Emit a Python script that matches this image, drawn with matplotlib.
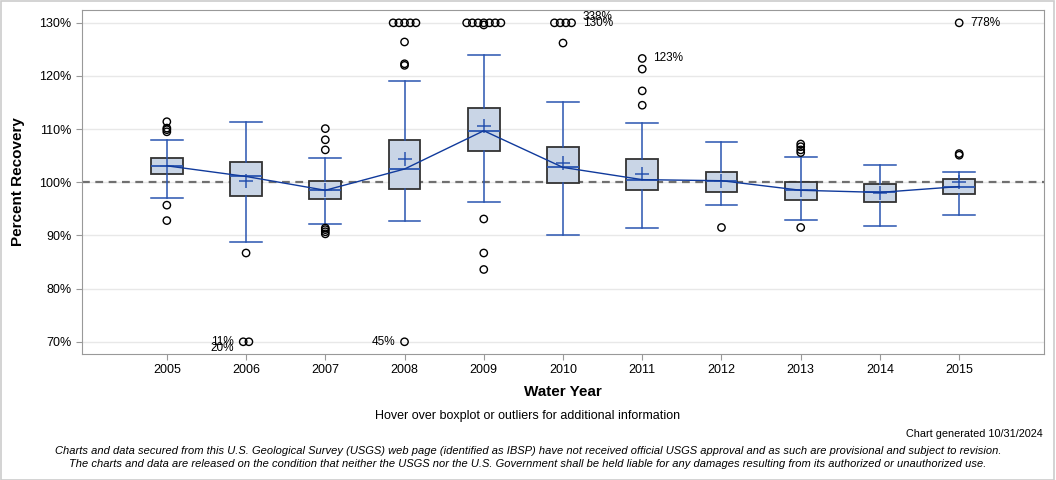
import matplotlib
matplotlib.use("Agg")
import matplotlib.pyplot as plt
import numpy as np

plt.rcParams['font.family'] = ['Liberation Sans', 'DejaVu Sans']

years = [2005, 2006, 2007, 2008, 2009, 2010, 2011, 2012, 2013, 2014, 2015]
whis_lo = [97.0, 88.8, 92.1, 92.8, 96.3, 90.0, 91.4, 95.8, 92.9, 91.8, 93.8]
q1 = [101.5, 97.5, 96.9, 98.7, 105.8, 99.9, 98.5, 98.2, 96.7, 96.3, 97.8]
medians = [103.1, 101.1, 98.5, 102.5, 109.7, 102.8, 100.5, 100.3, 98.5, 98.1, 99.2]
q3 = [104.6, 103.8, 100.3, 107.9, 114.0, 106.7, 104.4, 102.0, 100.1, 99.6, 100.6]
whis_hi = [108.0, 111.4, 104.5, 119.1, 123.9, 115.1, 111.2, 107.6, 104.7, 103.2, 102.0]
means = [103.1, 100.3, 98.5, 104.4, 110.5, 103.7, 101.5, 100.3, 98.6, 98.0, 100.0]

# outliers (values beyond the 70-130 axis range are clipped to the edge)
outliers = {
    2005: [111.4, 110.2, 109.9, 109.5, 95.7, 92.8],
    2006: [86.7, 11, 20],
    2007: [110.1, 108.0, 106.1, 91.4, 91.1, 90.7, 90.3],
    2008: [126.4, 122.3, 122.0, 45, 131, 134, 137, 141, 150],
    2009: [129.6, 93.1, 86.7, 83.6, 131, 133, 136, 139, 142, 146, 160],
    2010: [126.2, 131, 135, 150, 338],
    2011: [123.3, 121.3, 117.2, 114.5],
    2012: [91.5],
    2013: [107.2, 106.7, 106.1, 105.6, 91.5],
    2014: [],
    2015: [105.4, 105.1, 778],
}
# value labels shown on the chart
point_labels = [
    (2006, 70, '11%', 'left', 0),
    (2006, 70, '20%', 'left', -1.1),
    (2008, 70, '45%', 'left', 0),
    (2010, 130, '338%', 'right', 1.1),
    (2010, 130, '130%', 'right', 0),
    (2011, 123.3, '123%', 'right', 0),
    (2015, 130, '778%', 'right', 0),
]

ymin, ymax = 70, 130
box_fill = '#c9d5e6'
box_edge = '#333333'
blue = '#2a55b0'
dark_blue = '#103a9c'

fig = plt.figure(figsize=(10.56, 4.8), dpi=100)
ax = fig.add_axes([0.0777, 0.2625, 0.9109, 0.7165])

stats = []
for i, y in enumerate(years):
    stats.append(dict(whislo=whis_lo[i], q1=q1[i], med=medians[i], q3=q3[i],
                      whishi=whis_hi[i], mean=means[i], fliers=[]))

ax.axhline(100, color='#707070', lw=1.6, ls=(0, (3.5, 2.5)), zorder=1)

ax.bxp(stats, positions=years, widths=0.4, patch_artist=True, showmeans=True,
       showfliers=False,
       boxprops=dict(facecolor=box_fill, edgecolor=box_edge, lw=1.3),
       medianprops=dict(color=blue, lw=1.3),
       whiskerprops=dict(color=blue, lw=1.1),
       capprops=dict(color=blue, lw=1.1),
       meanprops=dict(marker='+', markeredgecolor=blue, markersize=10, mew=1.1),
       capwidths=0.4, zorder=3)

ax.plot(years, medians, color=dark_blue, lw=1.0, zorder=4)

for y in years:
    vals = outliers[y]
    inside = [v for v in vals if ymin <= v <= ymax]
    above = [v for v in vals if v > ymax]
    below = [v for v in vals if v < ymin]
    ax.scatter([y] * len(inside), inside, s=28, facecolors='none',
               edgecolors='black', lw=1.0, zorder=5)
    for grp, edge in ((above, ymax), (below, ymin)):
        if grp:
            n = len(grp)
            xs = y + (np.arange(n) - (n - 1) / 2) * 0.072
            ax.scatter(xs, [edge] * n, s=28, facecolors='none',
                       edgecolors='black', lw=1.0, zorder=5, clip_on=False)

for yr, val, txt, side, dy in point_labels:
    if val == ymax:
        n_same = len([v for v in outliers[yr] if v > ymax])
    elif val == ymin:
        n_same = len([v for v in outliers[yr] if v < ymin])
    else:
        n_same = 1
    spread = max(n_same - 1, 0) / 2 * 0.072
    if side == 'left':
        ax.text(yr - spread - 0.12, val + dy, txt, ha='right', va='center', fontsize=8.5)
    else:
        ax.text(yr + spread + 0.14, val + dy, txt, ha='left', va='center', fontsize=8.5)

ax.set_xlim(2003.93, 2016.07)
ax.set_ylim(67.7, 132.4)
ax.set_xticks(years)
ax.set_xticklabels([str(y) for y in years], fontsize=9)
yt = list(range(70, 131, 10))
ax.set_yticks(yt)
ax.set_yticklabels([f'{t}%' for t in yt], fontsize=9)
ax.grid(axis='y', color='#e8e8e8', lw=1)
ax.set_axisbelow(True)
for s in ax.spines.values():
    s.set_color('#999999')
ax.tick_params(colors='#999999', labelcolor='black', length=4)
ax.set_xlabel('Water Year', fontsize=11, fontweight='bold', labelpad=6)
ax.set_ylabel('Percent Recovery', fontsize=11, fontweight='bold', labelpad=10)

fig.text(0.5, 1 - 416 / 480, 'Hover over boxplot or outliers for additional information',
         ha='center', va='center', fontsize=9)
fig.text(0.987, 1 - 434 / 480, 'Chart generated 10/31/2024', ha='right', va='center',
         fontsize=7.8)
fig.text(0.5, 1 - 451 / 480,
         'Charts and data secured from this U.S. Geological Survey (USGS) web page (identified as IBSP) have not received official USGS approval and as such are provisional and subject to revision.',
         ha='center', va='center', fontsize=8, style='italic')
fig.text(0.5, 1 - 464 / 480,
         'The charts and data are released on the condition that neither the USGS nor the U.S. Government shall be held liable for any damages resulting from its authorized or unauthorized use.',
         ha='center', va='center', fontsize=8, style='italic')

border = plt.Rectangle((0.001, 0.001), 0.997, 0.997, transform=fig.transFigure,
                       fill=False, edgecolor='#cccccc', lw=1.2)
fig.patches.append(border)

fig.savefig('out.png', dpi=100)
